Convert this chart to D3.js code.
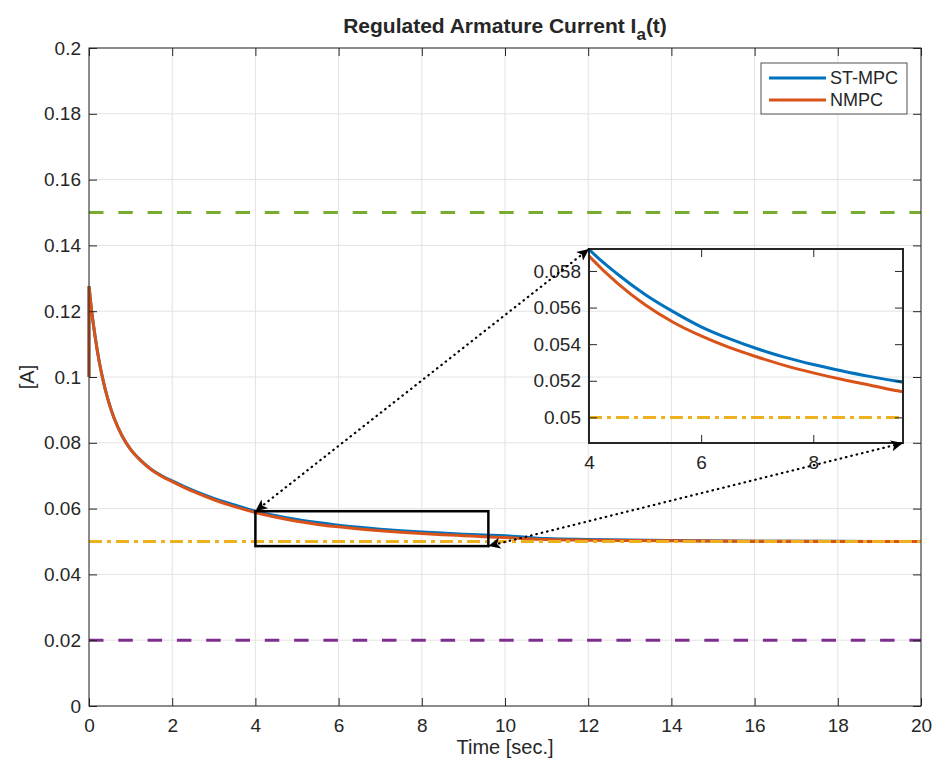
<!DOCTYPE html>
<html>
<head>
<meta charset="utf-8">
<script src="https://cdn.jsdelivr.net/npm/d3@7"></script>
<style>
  body { margin: 0; background: #fff; }
  text { font-family: "Liberation Sans", Arial, sans-serif; fill: #262626; }
</style>
</head>
<body>
<svg width="937" height="762"></svg>
<script>
// time samples [sec.]
var time = [0, 0, 0.05, 0.1, 0.2, 0.3, 0.4, 0.5, 0.6, 0.8, 1, 1.25, 1.5, 1.75, 2, 2.5, 3, 3.5, 4,
  4.5, 5, 5.5, 6, 6.5, 7, 7.5, 8, 8.5, 9, 9.5, 10, 11, 12, 14, 16, 18, 20];

var stMpc = [0.1, 0.1276, 0.1215, 0.1165, 0.108, 0.1012, 0.0958, 0.0913, 0.0876, 0.082, 0.078,
  0.0746, 0.0719, 0.07, 0.0684, 0.0655, 0.0631, 0.0611, 0.05919,
  0.05785, 0.05672, 0.05578, 0.05495, 0.0543, 0.05375, 0.05328, 0.05289, 0.05255, 0.05224,
  0.05197, 0.05175, 0.0509, 0.0506, 0.0503, 0.0501, 0.05005, 0.05];

var nmpc = [0.1, 0.1276, 0.1215, 0.1165, 0.108, 0.1012, 0.0958, 0.0913, 0.0876, 0.082, 0.078,
  0.0745, 0.0718, 0.0698, 0.0682, 0.0652, 0.0627, 0.0606, 0.05882,
  0.05735, 0.05615, 0.0552, 0.05445, 0.05382, 0.0533, 0.05283, 0.05243, 0.05208, 0.05177,
  0.05145, 0.0512, 0.0506, 0.0504, 0.0502, 0.0501, 0.05, 0.05];

var seriesNames = ["ST-MPC", "NMPC"];

// constraint / reference levels
var upperLimit = 0.15;
var reference = 0.05;
var lowerLimit = 0.02;

var xTicks = [0, 2, 4, 6, 8, 10, 12, 14, 16, 18, 20];
var yTicks = [0, 0.02, 0.04, 0.06, 0.08, 0.1, 0.12, 0.14, 0.16, 0.18, 0.2];

// zoomed window
var zoomX = [4, 9.6];
var zoomY = [0.0486, 0.0592];
var insetXTicks = [4, 6, 8];
var insetYTicks = [0.05, 0.052, 0.054, 0.056, 0.058];

var colors = { st: "#0072BD", nmpc: "#D95319", upper: "#77AC30", ref: "#EDB120", lower: "#7E2F8E" };
var axisColor = "#262626";
var fmt = d3.format("~g");

var svg = d3.select("svg");
var margin = { top: 48, left: 89, right: 16, bottom: 56 };
var width = +svg.attr("width");
var height = +svg.attr("height");
var innerWidth = width - margin.left - margin.right;
var innerHeight = height - margin.top - margin.bottom;

var xScale = d3.scaleLinear().domain([0, 20]).range([0, innerWidth]);
var yScale = d3.scaleLinear().domain([0, 0.2]).range([innerHeight, 0]);

var defs = svg.append("defs");
defs.append("clipPath").attr("id", "clipMain")
  .append("rect").attr("x", -2).attr("width", innerWidth + 2).attr("height", innerHeight);

defs.append("marker")
  .attr("id", "head")
  .attr("viewBox", "-1 -6 14 12")
  .attr("refX", 12).attr("refY", 0)
  .attr("markerWidth", 14).attr("markerHeight", 12)
  .attr("markerUnits", "userSpaceOnUse")
  .attr("orient", "auto-start-reverse")
  .append("path")
  .attr("d", "M0,-5.5L12,0L0,5.5L3,0Z")
  .attr("fill", "#000");

var g = svg.append("g")
  .attr("transform", "translate(" + margin.left + "," + margin.top + ")");

// grid
g.append("g").selectAll("line").data(xTicks).join("line")
  .attr("x1", xScale).attr("x2", xScale)
  .attr("y1", 0).attr("y2", innerHeight)
  .attr("stroke", "#e3e3e3");
g.append("g").selectAll("line").data(yTicks).join("line")
  .attr("y1", yScale).attr("y2", yScale)
  .attr("x1", 0).attr("x2", innerWidth)
  .attr("stroke", "#e3e3e3");

// curves: jump at t=0 then smooth decay
function curvePath(xs, ys, xv, yv) {
  var pts = xv.map(function (t, i) { return [t, yv[i]]; });
  var line = d3.line()
    .x(function (d) { return xs(d[0]); })
    .y(function (d) { return ys(d[1]); })
    .curve(d3.curveMonotoneX);
  return "M" + xs(pts[0][0]) + "," + ys(pts[0][1]) + line(pts.slice(1)).replace(/^M/, "L");
}

function drawLevels(sel, xs, ys, x0, x1) {
  sel.append("line")
    .attr("x1", xs(x0)).attr("x2", xs(x1))
    .attr("y1", ys(reference)).attr("y2", ys(reference))
    .attr("stroke", colors.ref).attr("stroke-width", 3)
    .attr("stroke-dasharray", "13,5,4,5");
}

var plot = g.append("g").attr("clip-path", "url(#clipMain)");
plot.append("path").attr("d", curvePath(xScale, yScale, time, stMpc))
  .attr("fill", "none").attr("stroke", colors.st).attr("stroke-width", 3);
plot.append("path").attr("d", curvePath(xScale, yScale, time, nmpc))
  .attr("fill", "none").attr("stroke", colors.nmpc).attr("stroke-width", 3);

[[upperLimit, colors.upper], [lowerLimit, colors.lower]].forEach(function (l) {
  plot.append("line")
    .attr("x1", xScale(0)).attr("x2", xScale(20))
    .attr("y1", yScale(l[0])).attr("y2", yScale(l[0]))
    .attr("stroke", l[1]).attr("stroke-width", 3)
    .attr("stroke-dasharray", "14.5,14.8");
});
drawLevels(plot, xScale, yScale, 0, 20);

// axes with inward ticks on all four sides
function boxAxes(sel, xs, ys, xt, yt, w, h, lw) {
  var xb = sel.append("g").attr("transform", "translate(0," + h + ")")
    .call(d3.axisBottom(xs).tickValues(xt).tickFormat(fmt).tickSize(-8).tickPadding(12));
  xb.selectAll("text").attr("dy", null).attr("y", 26);
  var xtop = sel.append("g")
    .call(d3.axisTop(xs).tickValues(xt).tickFormat("").tickSize(-8));
  var yl = sel.append("g")
    .call(d3.axisLeft(ys).tickValues(yt).tickFormat(fmt).tickSize(-8).tickPadding(8));
  var yr = sel.append("g").attr("transform", "translate(" + w + ",0)")
    .call(d3.axisRight(ys).tickValues(yt).tickFormat("").tickSize(-8));
  [xb, xtop, yl, yr].forEach(function (a) {
    a.select(".domain").remove();
    a.selectAll(".tick line").attr("stroke", axisColor).attr("stroke-width", 1);
    a.selectAll("text").attr("font-size", 19).attr("font-family", null).attr("fill", axisColor);
  });
  sel.append("rect").attr("width", w).attr("height", h)
    .attr("fill", "none").attr("stroke", axisColor).attr("stroke-width", lw);
}
boxAxes(g, xScale, yScale, xTicks, yTicks, innerWidth, innerHeight, 1);

// zoom box in the main axes
g.append("rect")
  .attr("x", xScale(zoomX[0])).attr("y", yScale(zoomY[1]))
  .attr("width", xScale(zoomX[1]) - xScale(zoomX[0]))
  .attr("height", yScale(zoomY[0]) - yScale(zoomY[1]))
  .attr("fill", "none").attr("stroke", "#000").attr("stroke-width", 2.5);

// inset axes
var inset = { left: 500, top: 201, width: 314, height: 194 };
var ix = d3.scaleLinear().domain(zoomX).range([0, inset.width]);
var iy = d3.scaleLinear().domain(zoomY).range([inset.height, 0]);
defs.append("clipPath").attr("id", "clipInset")
  .append("rect").attr("width", inset.width).attr("height", inset.height);

var gi = g.append("g")
  .attr("transform", "translate(" + inset.left + "," + inset.top + ")");
var iplot = gi.append("g").attr("clip-path", "url(#clipInset)");
iplot.append("path").attr("d", curvePath(ix, iy, time, stMpc))
  .attr("fill", "none").attr("stroke", colors.st).attr("stroke-width", 3);
iplot.append("path").attr("d", curvePath(ix, iy, time, nmpc))
  .attr("fill", "none").attr("stroke", colors.nmpc).attr("stroke-width", 3);
drawLevels(iplot, ix, iy, zoomX[0], zoomX[1]);
boxAxes(gi, ix, iy, insetXTicks, insetYTicks, inset.width, inset.height, 2);

// dotted double arrows linking zoom box and inset
var links = [
  [[xScale(zoomX[0]), yScale(zoomY[1])], [inset.left, inset.top]],
  [[xScale(zoomX[1]), yScale(zoomY[0])], [inset.left + inset.width, inset.top + inset.height]]
];
g.append("g").selectAll("line").data(links).join("line")
  .attr("x1", function (d) { return d[0][0]; }).attr("y1", function (d) { return d[0][1]; })
  .attr("x2", function (d) { return d[1][0]; }).attr("y2", function (d) { return d[1][1]; })
  .attr("stroke", "#000").attr("stroke-width", 2.2)
  .attr("stroke-linecap", "round").attr("stroke-dasharray", "0.5,5")
  .attr("marker-start", "url(#head)").attr("marker-end", "url(#head)");

// legend
var legend = g.append("g").attr("transform", "translate(" + (innerWidth - 160) + ",15)");
legend.append("rect").attr("width", 146).attr("height", 51)
  .attr("fill", "#fff").attr("stroke", axisColor).attr("stroke-width", 0.8);
[colors.st, colors.nmpc].forEach(function (c, i) {
  legend.append("line").attr("x1", 8).attr("x2", 65)
    .attr("y1", 15 + i * 22).attr("y2", 15 + i * 22)
    .attr("stroke", c).attr("stroke-width", 3);
  legend.append("text").attr("x", 69).attr("y", 21 + i * 22)
    .attr("font-size", 18).text(seriesNames[i]);
});

// labels
var title = svg.append("text")
  .attr("x", margin.left + innerWidth / 2).attr("y", 33)
  .attr("text-anchor", "middle").attr("font-size", 21).attr("font-weight", "bold")
  .attr("fill", "#000");
title.append("tspan").text("Regulated Armature Current I");
title.append("tspan").attr("font-size", 17).attr("dy", 7).text("a");
title.append("tspan").attr("dy", -7).text("(t)");

svg.append("text")
  .attr("x", margin.left + innerWidth / 2).attr("y", 754)
  .attr("text-anchor", "middle").attr("font-size", 20)
  .text("Time [sec.]");

svg.append("text")
  .attr("transform", "translate(34," + (margin.top + innerHeight / 2) + ") rotate(-90)")
  .attr("text-anchor", "middle").attr("font-size", 20)
  .text("[A]");
</script>
</body>
</html>
